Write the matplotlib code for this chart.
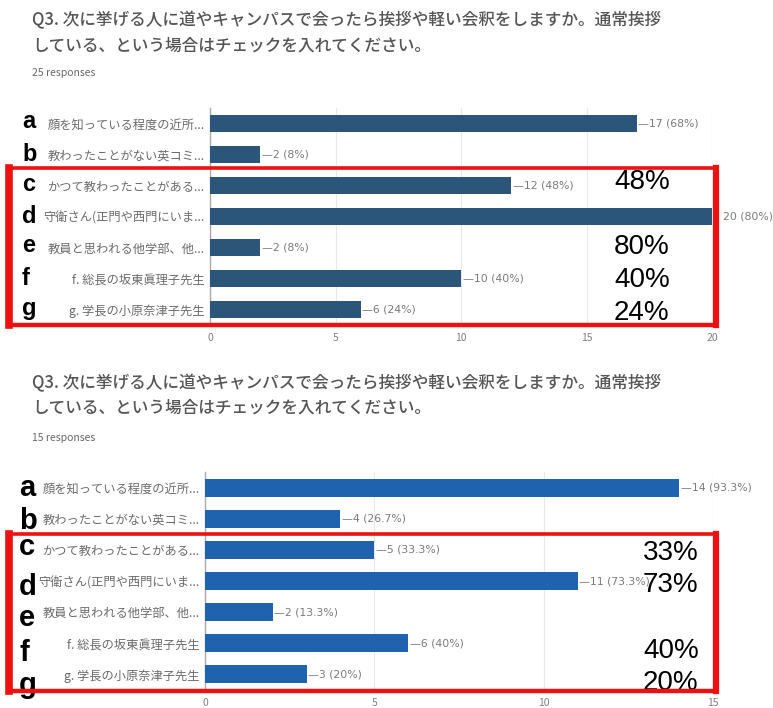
import matplotlib
matplotlib.use('Agg')
import matplotlib.pyplot as plt
from matplotlib.lines import Line2D
import matplotlib.transforms as mtransforms

plt.rcParams['font.family'] = ['Noto Sans CJK JP', 'DejaVu Sans']

# ---------------- data ----------------
letters = ['a', 'b', 'c', 'd', 'e', 'f', 'g']
labels = ['顔を知っている程度の近所...',
          '教わったことがない英コミ...',
          'かつて教わったことがある...',
          '守衛さん(正門や西門にいま...',
          '教員と思われる他学部、他...',
          'f. 総長の坂東眞理子先生',
          'g. 学長の小原奈津子先生']
counts_top = [17, 2, 12, 20, 2, 10, 6]
pct_top = ['68%', '8%', '48%', '80%', '8%', '40%', '24%']
counts_bot = [14, 4, 5, 11, 2, 6, 3]
pct_bot = ['93.3%', '26.7%', '33.3%', '73.3%', '13.3%', '40%', '20%']
overlay_top_rows = ['c', 'e', 'f', 'g']
overlay_top_text = ['48%', '80%', '40%', '24%']
overlay_bot_rows = ['c', 'd', 'f', 'g']
overlay_bot_text = ['33%', '73%', '40%', '20%']
title_line1 = 'Q3. 次に挙げる人に道やキャンパスで会ったら挨拶や軽い会釈をしますか。通常挨拶'
title_line2 = 'している、という場合はチェックを入れてください。'
resp_top = '25 responses'
resp_bot = '15 responses'
xticks_top = [0, 5, 10, 15, 20]
xticks_bot = [0, 5, 10, 15]

# ---------------- layout ----------------
W, H = 773, 708
fig = plt.figure(figsize=(W / 100, H / 100), dpi=100)
fig.patch.set_facecolor('white')


def fx(x):
    return x / W


def fy(y):
    return 1 - y / H


def make_chart(left, right, top, bottom, counts, pcts, xticks, color,
               title_y, resp_y, resp_text, letter_size, letter_x,
               letter_offsets, ov_rows, ov_text, ov_x, ov_offsets,
               box):
    fig.text(fx(32), fy(title_y), title_line1, fontsize=12, color='#555555',
             va='center', ha='left', fontweight='medium')
    fig.text(fx(32), fy(title_y + 25), title_line2, fontsize=12, color='#555555',
             va='center', ha='left', fontweight='medium')
    fig.text(fx(32), fy(resp_y), resp_text, fontsize=7.5, color='#666666',
             va='center', ha='left')

    ax = fig.add_axes([fx(left), fy(bottom), fx(right - left), fy(top) - fy(bottom)])
    y = list(range(len(counts)))
    ax.barh(y, counts, height=0.58, color=color, zorder=3)
    xmax = xticks[-1]
    ax.set_xlim(0, xmax)
    ax.set_ylim(len(counts) - 0.5, -0.5)
    ax.set_xticks(xticks)
    ax.set_xticklabels([str(t) for t in xticks])
    ax.set_yticks(y)
    ax.set_yticklabels(labels)
    ax.tick_params(axis='x', length=0, labelsize=7.5, labelcolor='#808080', pad=6)
    ax.tick_params(axis='y', length=0, labelsize=8.8, labelcolor='#6a6a6a', pad=4)
    for s in ['top', 'right', 'bottom']:
        ax.spines[s].set_visible(False)
    ax.spines['left'].set_color('#aaaaaa')
    ax.spines['left'].set_linewidth(1.0)
    ax.grid(axis='x', color='#e8e8e8', linewidth=0.8, zorder=0)
    ax.set_axisbelow(True)
    for i, (c, p) in enumerate(zip(counts, pcts)):
        if c == xmax:
            txt = f'{c} ({p})'
            xo = c + 0.022 * xmax
        else:
            txt = f'—{c} ({p})'
            xo = c + 0.003 * xmax
        ax.text(xo, i, txt, va='center', ha='left', fontsize=7.8, color='#7a7a7a',
                family=['DejaVu Sans'], clip_on=False, zorder=4)

    # big letters a-g
    trans = mtransforms.blended_transform_factory(fig.transFigure, ax.transData)
    for i, (l, off) in enumerate(zip(letters, letter_offsets)):
        fig.text(fx(letter_x), i + off, l, transform=trans, fontsize=letter_size,
                 fontweight='bold', family=['Liberation Sans'], color='black',
                 ha='left', va='baseline', zorder=5)

    # overlay percentages
    for r, t, off in zip(ov_rows, ov_text, ov_offsets):
        i = letters.index(r)
        ax.text(ov_x, i + off, t, fontsize=20, family=['Liberation Sans'],
                color='black', ha='left', va='center', clip_on=False, zorder=6)

    # red box
    bl, bt, br, bb = box
    red = '#ee1111'

    def line(x0, y0, x1, y1, lw):
        fig.add_artist(Line2D([fx(x0), fx(x1)], [fy(y0), fy(y1)], color=red,
                              linewidth=lw, transform=fig.transFigure,
                              solid_capstyle='projecting', zorder=10))
    line(bl, bt, br, bt, 2.6)
    line(bl, bb, br, bb, 3.2)
    line(bl, bt, bl, bb, 5.5)
    line(br, bt, br, bb, 4.5)
    return ax


make_chart(210, 712, 108, 325, counts_top, pct_top, xticks_top, '#2b5679',
           title_y=20, resp_y=73, resp_text=resp_top, letter_size=17,
           letter_x=22, letter_offsets=[0.14, 0.2, 0.17, 0.2, 0.14, 0.22, 0.17],
           ov_rows=overlay_top_rows, ov_text=overlay_top_text, ov_x=16.1,
           ov_offsets=[-0.12, 0.0, 0.06, 0.1],
           box=(9, 168, 716, 325))

make_chart(205, 713, 472, 690, counts_bot, pct_bot, xticks_bot, '#1f62ad',
           title_y=383, resp_y=438, resp_text=resp_bot, letter_size=21,
           letter_x=19, letter_offsets=[0.26, 0.32, 0.16, 0.45, 0.45, 0.58, 0.61],
           ov_rows=overlay_bot_rows, ov_text=overlay_bot_text, ov_x=12.93,
           ov_offsets=[0.1, 0.13, 0.26, 0.29],
           box=(9, 534, 716, 691))

fig.savefig('out.png', dpi=100, facecolor='white')
